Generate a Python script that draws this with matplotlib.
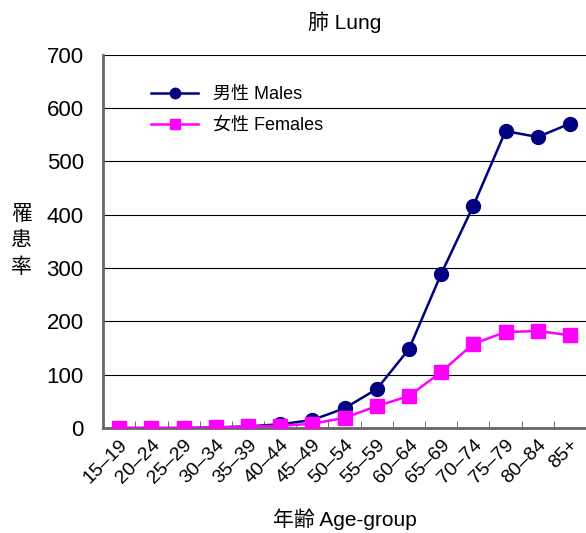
import matplotlib.pyplot as plt

plt.rcParams['font.family'] = ['Liberation Sans', 'Noto Sans CJK JP']

age_groups = ['15–19', '20–24', '25–29', '30–34', '35–39', '40–44', '45–49', '50–54',
              '55–59', '60–64', '65–69', '70–74', '75–79', '80–84', '85+']
males = [0, 0, 0, 1, 3, 7, 15, 37, 73, 148, 289, 417, 557, 546, 571]
females = [0, 0, 0, 1, 3, 4, 8, 19, 41, 60, 105, 158, 180, 182, 174]
y_ticks = [0, 100, 200, 300, 400, 500, 600, 700]

fig = plt.figure(figsize=(5.86, 5.33), dpi=100)
ax = fig.add_axes([0.176, 0.197, 0.824, 0.70])

x = range(len(age_groups))
ax.plot(x, males, color='#000080', marker='o', markersize=10, linewidth=1.8,
        label='男性 Males', zorder=3)
ax.plot(x, females, color='#ff00ff', marker='s', markersize=10, linewidth=1.8,
        label='女性 Females', zorder=4)

ax.set_xlim(-0.5, len(age_groups) - 0.5)
ax.set_ylim(0, 700)
ax.set_yticks(y_ticks)
ax.set_yticklabels([str(v) for v in y_ticks], fontsize=16)
ax.yaxis.grid(True, color='black', linewidth=0.8)
ax.set_axisbelow(True)
ax.tick_params(axis='y', length=0, pad=14)

ax.set_xticks(list(x))
ax.set_xticklabels(age_groups, rotation=45, ha='right', rotation_mode='anchor', fontsize=14)
ax.tick_params(axis='x', length=0, pad=6)
ax.set_xticks([i + 0.5 for i in range(len(age_groups) - 1)], minor=True)
ax.tick_params(axis='x', which='minor', direction='in', length=5, color='#555555')

for side in ['top', 'right']:
    ax.spines[side].set_visible(False)
for side in ['left', 'bottom']:
    ax.spines[side].set_color('#666666')
    ax.spines[side].set_linewidth(2)

ax.set_title('肺 Lung', fontsize=15, pad=19)
ax.set_xlabel('年齢 Age-group', fontsize=15, labelpad=15)
fig.text(0.036, 0.548, '罹\n患\n率', fontsize=15, ha='center', va='center', linespacing=1.5)

ax.legend(loc='upper left', bbox_to_anchor=(0.085, 0.935), frameon=False, fontsize=13,
          handlelength=2.6, borderaxespad=0, labelspacing=0.75, markerscale=0.75)

fig.savefig('out.png', dpi=100)
